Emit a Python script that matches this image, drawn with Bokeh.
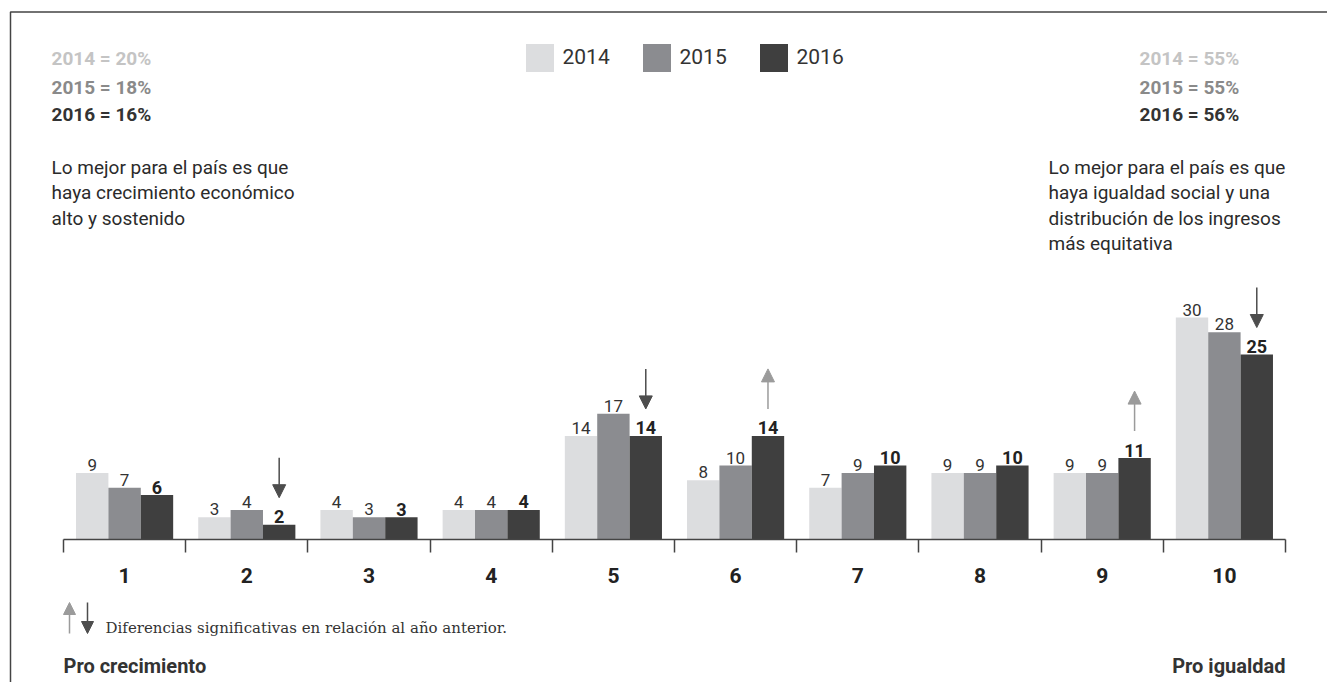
from bokeh.plotting import figure
from bokeh.models import (ColumnDataSource, Range1d, LinearAxis, FixedTicker, Label,
                          Arrow, NormalHead, Legend, LegendItem)
from bokeh.core.properties import value
from bokeh.embed import file_html
from bokeh.resources import INLINE

# ---------------- data ----------------
categories = [1, 2, 3, 4, 5, 6, 7, 8, 9, 10]
tick_labels = ["1", "2", "3", "4", "5", "6", "7", "8", "9", "10"]
years = ["2014", "2015", "2016"]
v2014 = [9, 3, 4, 4, 14, 8, 7, 9, 9, 30]
v2015 = [7, 4, 3, 4, 17, 10, 9, 9, 9, 28]
v2016 = [6, 2, 3, 4, 14, 14, 10, 10, 11, 25]
pro_growth = [20, 18, 16]      # summary per year, left pole
pro_equality = [55, 55, 56]    # summary per year, right pole
sig_down = [2, 5, 10]          # categories with significant decrease in 2016
sig_up = [6, 9]                # categories with significant increase in 2016

left_text = ["Lo mejor para el país es que", "haya crecimiento económico", "alto y sostenido"]
right_text = ["Lo mejor para el país es que", "haya igualdad social y una",
              "distribución de los ingresos", "más equitativa"]
note_text = "Diferencias significativas en relación al año anterior."
left_pole = "Pro crecimiento"
right_pole = "Pro igualdad"

# ---------------- style ----------------
COL = ["#dcdddf", "#8b8c90", "#3f3f3f"]
TXT_COL = ["#c4c4c4", "#8a8a8a", "#333333"]
FONT = "Roboto"
W, H = 1327, 682
SX = 122.2     # px per category
SY = 7.4       # px per percentage point
BASE_PY = 539  # y of the baseline (px from top)
LEFT_PX = 63   # x of first category boundary

x0 = 0.5 - LEFT_PX / SX
x1 = x0 + W / SX
y1 = BASE_PY / SY
y0 = (BASE_PY - H) / SY


def dx(px):
    return x0 + px / SX


def dy(py):
    return (BASE_PY - py) / SY


p = figure(width=W, height=H, output_backend="svg", toolbar_location=None,
           x_range=Range1d(x0, x1), y_range=Range1d(y0, y1),
           x_axis_type=None, y_axis_type=None, min_border=0,
           outline_line_color=None, background_fill_color="white",
           border_fill_color="white")
p.xgrid.visible = False
p.ygrid.visible = False

# frame decoration (top and left rule)
p.line(x=[dx(10), dx(10), dx(W)], y=[dy(H), dy(11.5), dy(11.5)],
       line_color="#444444", line_width=1.5)

# ---------------- bars ----------------
bw = 0.265
offsets = [-bw, 0.0, bw]
series = [v2014, v2015, v2016]
renderers = []
for i, vals in enumerate(series):
    src = ColumnDataSource(dict(x=[c + offsets[i] for c in categories], top=vals,
                                label=[str(v) for v in vals]))
    r = p.vbar(x="x", top="top", width=bw, bottom=0, source=src,
               fill_color=COL[i], line_color=None)
    renderers.append(r)
    p.text(x="x", y="top", text="label", source=src, text_align="center",
           text_baseline="alphabetic", y_offset=-8,
           text_font=value(FONT), text_font_size="18px" if i == 2 else "17px",
           text_font_style="bold" if i == 2 else "normal",
           text_color="#222222" if i == 2 else "#333333")

# significance arrows (2016 bars)
for c in sig_down:
    v = v2016[c - 1]
    p.add_layout(Arrow(x_start=c + bw, x_end=c + bw, y_start=v + 67 / SY, y_end=v + 27 / SY,
                       line_color="#4d4d4d", line_width=1.5,
                       end=NormalHead(size=13, fill_color="#4d4d4d", line_color="#4d4d4d")))
for c in sig_up:
    v = v2016[c - 1]
    p.add_layout(Arrow(x_start=c + bw, x_end=c + bw, y_start=v + 27 / SY, y_end=v + 67 / SY,
                       line_color="#9b9b9b", line_width=1.5,
                       end=NormalHead(size=13, fill_color="#9b9b9b", line_color="#9b9b9b")))

# ---------------- axis ----------------
bounds = [c - 0.5 for c in categories] + [categories[-1] + 0.5]
xaxis = LinearAxis(fixed_location=0, bounds=(bounds[0], bounds[-1]),
                   ticker=FixedTicker(ticks=categories, minor_ticks=bounds),
                   major_label_overrides={c: t for c, t in zip(categories, tick_labels)},
                   axis_line_color="#444444", axis_line_width=1.5,
                   major_tick_out=0, major_tick_in=0,
                   minor_tick_out=13, minor_tick_in=0,
                   minor_tick_line_color="#444444", minor_tick_line_width=1.5,
                   major_label_standoff=15,
                   major_label_text_font=FONT, major_label_text_font_style="bold",
                   major_label_text_font_size="21px", major_label_text_color="#222222")
p.add_layout(xaxis, "below")

# ---------------- legend ----------------
GW = 35  # glyph box (bar swatch is drawn with a 10% inset -> 28px square)
legend = Legend(items=[LegendItem(label=y, renderers=[r]) for y, r in zip(years, renderers)],
                orientation="horizontal", location=(525 - 3.5, H - (43 - 3.5) - GW),
                glyph_width=GW, glyph_height=GW, label_standoff=6, spacing=28,
                label_width=48, label_height=GW,
                padding=0, margin=0, border_line_color=None, background_fill_alpha=0,
                label_text_font=FONT, label_text_font_size="21px", label_text_color="#333333")
p.add_layout(legend)

# ---------------- annotation texts ----------------
for i, (yr, g, e) in enumerate(zip(years, pro_growth, pro_equality)):
    base = [58, 87, 114][i]
    for xpx, val in ((51, g), (1139, e)):
        p.add_layout(Label(x=dx(xpx), y=dy(base), text=f"{yr} = {val}%",
                           text_font=FONT, text_font_size="19px", text_font_style="bold",
                           text_color=TXT_COL[i], text_baseline="alphabetic"))

for k, line in enumerate(left_text):
    p.add_layout(Label(x=dx(51), y=dy(166.5 + 25.5 * k), text=line, text_font=FONT,
                       text_font_size="19px", text_color="#2b2b2b", text_baseline="alphabetic"))
for k, line in enumerate(right_text):
    p.add_layout(Label(x=dx(1048), y=dy(166.5 + 25.5 * k), text=line, text_font=FONT,
                       text_font_size="19px", text_color="#2b2b2b", text_baseline="alphabetic"))

# arrow key
p.add_layout(Arrow(x_start=dx(69), x_end=dx(69), y_start=dy(633), y_end=dy(602),
                   line_color="#9b9b9b", line_width=1.5,
                   end=NormalHead(size=12, fill_color="#9b9b9b", line_color="#9b9b9b")))
p.add_layout(Arrow(x_start=dx(87), x_end=dx(87), y_start=dy(602), y_end=dy(633),
                   line_color="#4d4d4d", line_width=1.5,
                   end=NormalHead(size=12, fill_color="#4d4d4d", line_color="#4d4d4d")))
p.add_layout(Label(x=dx(105), y=dy(627), text=note_text, text_font="DejaVu Serif",
                   text_font_size="15px", text_color="#333333", text_baseline="alphabetic"))

p.add_layout(Label(x=dx(63), y=dy(665), text=left_pole, text_font=FONT, text_font_size="20px",
                   text_font_style="bold", text_color="#333333", text_baseline="alphabetic"))
p.add_layout(Label(x=dx(1285), y=dy(665), text=right_pole, text_font=FONT, text_font_size="20px",
                   text_font_style="bold", text_color="#333333", text_baseline="alphabetic",
                   text_align="right"))

open("out.html", "w").write(file_html(p, INLINE))
